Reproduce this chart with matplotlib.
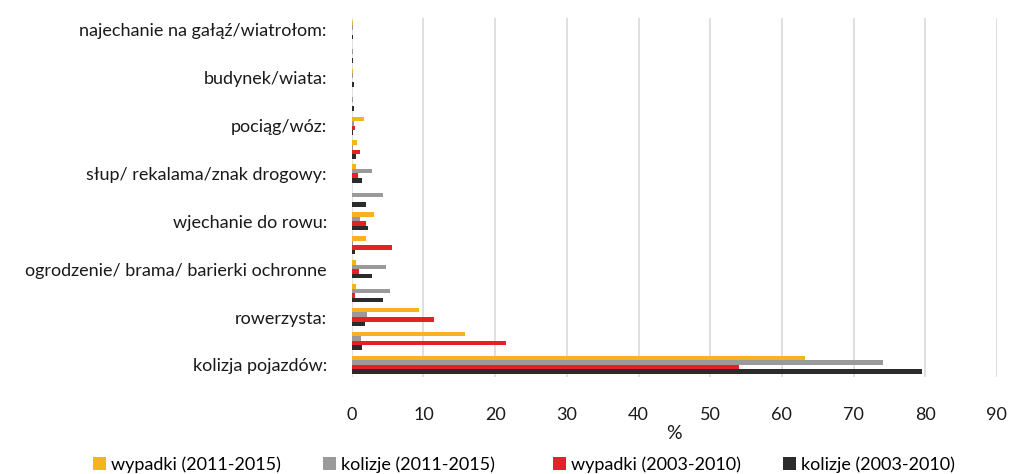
import numpy as np
import matplotlib.pyplot as plt

plt.rcParams['font.family'] = ['Lato', 'DejaVu Sans']

# categories from bottom to top (every other label is left blank on the axis)
categories = ['kolizja pojazdów:', '', 'rowerzysta:', '',
              'ogrodzenie/ brama/ barierki ochronne', '', 'wjechanie do rowu:', '',
              'słup/ rekalama/znak drogowy:', '', 'pociąg/wóz:', '',
              'budynek/wiata:', '', 'najechanie na gałąź/wiatrołom:']

wypadki_2011_2015 = [63.3, 15.8, 9.4, 0.6, 0.65, 2.0, 3.1, 0.0, 0.65, 0.75, 1.7, 0.0, 0.1, 0.0, 0.1]
kolizje_2011_2015 = [74.1, 1.3, 2.1, 5.3, 4.7, 0.2, 1.2, 4.4, 2.8, 0.2, 0.3, 0.15, 0.15, 0.2, 0.15]
wypadki_2003_2010 = [54.0, 21.5, 11.5, 0.5, 1.0, 5.6, 2.0, 0.0, 0.85, 1.1, 0.5, 0.0, 0.0, 0.0, 0.0]
kolizje_2003_2010 = [79.6, 1.4, 1.9, 4.4, 2.8, 0.5, 2.3, 2.0, 1.4, 0.55, 0.1, 0.3, 0.3, 0.1, 0.1]

series = [
    ('wypadki (2011-2015)', wypadki_2011_2015, '#f5b41e'),
    ('kolizje (2011-2015)', kolizje_2011_2015, '#9a9a9a'),
    ('wypadki (2003-2010)', wypadki_2003_2010, '#e3212b'),
    ('kolizje (2003-2010)', kolizje_2003_2010, '#2b2b2b'),
]

fig = plt.figure(figsize=(10.11, 4.74), dpi=100)
ax = fig.add_axes([0.348, 0.205, 0.638, 0.757])

y = np.arange(len(categories))
h = 0.19
offsets = [1.5 * h, 0.5 * h, -0.5 * h, -1.5 * h]
bars = []
for (name, vals, col), off in zip(series, offsets):
    bars.append(ax.barh(y + off, vals, height=h, color=col, label=name, zorder=3))

ax.set_xlim(0, 90)
ax.set_ylim(-0.5, len(categories) - 0.5)
ax.set_xticks(np.arange(0, 91, 10))
ax.set_yticks(y)
ax.set_yticklabels(categories)
ax.tick_params(axis='both', length=0, labelsize=13, colors='#1a1a1a')
ax.tick_params(axis='x', pad=22)
ax.tick_params(axis='y', pad=18)
ax.grid(axis='x', color='#d9d9d9', linewidth=1.2, zorder=0)
for s in ax.spines.values():
    s.set_visible(False)
ax.set_xlabel('%', fontsize=14, labelpad=1, color='#1a1a1a')

# legend entries in equally spaced slots along the bottom
for i, (b, (name, _, _)) in enumerate(zip(bars, series)):
    fig.legend(handles=[b], labels=[name], loc='center left',
               bbox_to_anchor=((93 + 230 * i) / 1011, 0.02),
               frameon=False, fontsize=13, handlelength=0.7, handleheight=0.7,
               handletextpad=0.3, borderpad=0, borderaxespad=0)

fig.savefig('out.png', dpi=100)
